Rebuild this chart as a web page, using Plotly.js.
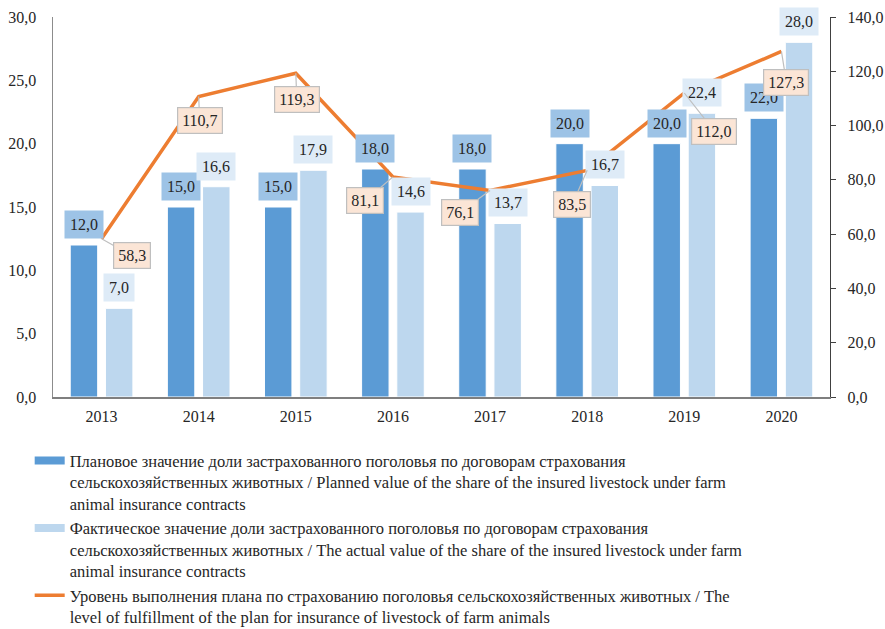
<!DOCTYPE html>
<html>
<head>
<meta charset="utf-8">
<script src="https://cdn.plot.ly/plotly-3.0.1.min.js"></script>
<style>html,body{margin:0;padding:0;background:#fff;}#chart{width:885px;height:629px;}</style>
</head>
<body>
<div id="chart"></div>
<script>
const years = ['2013','2014','2015','2016','2017','2018','2019','2020'];
const planned = [12.0, 15.0, 15.0, 18.0, 18.0, 20.0, 20.0, 22.0];
const actual = [7.0, 16.6, 17.9, 14.6, 13.7, 16.7, 22.4, 28.0];
const fulfillment = [58.3, 110.7, 119.3, 81.1, 76.1, 83.5, 112.0, 127.3];
const leftTicks = [0, 5, 10, 15, 20, 25, 30];
const rightTicks = [0, 20, 40, 60, 80, 100, 120, 140];
const legendNames = [
  'Плановое значение доли застрахованного поголовья по договорам страхования<br>сельскохозяйственных животных / Planned value of the share of the insured livestock under farm<br>animal insurance contracts',
  'Фактическое значение доли застрахованного поголовья по договорам страхования<br>сельскохозяйственных животных / The actual value of the share of the insured livestock under farm<br>animal insurance contracts',
  'Уровень выполнения плана по страхованию поголовья сельскохозяйственных животных / The<br>level of fulfillment of the plan for insurance of livestock of farm animals'
];
// callout offsets (px) for line labels
const calloutAx = [30, 1, 1, -28, -30, -15, 30, 5];
const calloutAy = [17, 24, 26, 24, 22, 34, 38, 31];

const FONT = 'Liberation Serif';
const TXT = '#262626';
const fmt = v => v.toFixed(1).replace('.', ',');
const xIdx = years.map((_, i) => i);

const traces = [
  {type:'bar', name: legendNames[0], x: years, y: planned, marker:{color:'#5B9BD5', line:{color:'#ffffff', width:1}}, hoverinfo:'none', showlegend:false},
  {type:'bar', name: legendNames[1], x: years, y: actual, marker:{color:'#BDD7EE', line:{color:'#ffffff', width:1}}, hoverinfo:'none', showlegend:false},
  {type:'scatter', mode:'lines', name: legendNames[2], x: years, y: fulfillment, yaxis:'y2', line:{color:'#ED7D31', width:3.5}, hoverinfo:'none', showlegend:false},
  // legend entries (wide swatches like the reference)
  {type:'scatter', mode:'lines', name: legendNames[0], x: [null], y: [null], line:{color:'#5B9BD5', width:8}, hoverinfo:'none'},
  {type:'scatter', mode:'lines', name: legendNames[1], x: [null], y: [null], line:{color:'#BDD7EE', width:8}, hoverinfo:'none'},
  {type:'scatter', mode:'lines', name: legendNames[2], x: [null], y: [null], yaxis:'y2', line:{color:'#ED7D31', width:3.5}, hoverinfo:'none'}
];

const annotations = [];
xIdx.forEach(i => {
  annotations.push({x: i, y: planned[i], xref:'x', yref:'y', xshift:-17.6, yshift:6, yanchor:'bottom', showarrow:false,
    text: fmt(planned[i]), bgcolor:'#9DC3E6', borderpad:5, font:{family:FONT, size:16, color:TXT}});
  annotations.push({x: i, y: actual[i], xref:'x', yref:'y', xshift:17.6, yshift:6, yanchor:'bottom', showarrow:false,
    text: fmt(actual[i]), bgcolor:'#DEEBF7', borderpad:5, font:{family:FONT, size:16, color:TXT}});
});
xIdx.forEach(i => {
  annotations.push({x: i, y: fulfillment[i], xref:'x', yref:'y2', showarrow:true, arrowhead:0, arrowwidth:1.2, arrowcolor:'#BFBFBF',
    ax: calloutAx[i], ay: calloutAy[i], text: fmt(fulfillment[i]), bgcolor:'#FBE5D6', bordercolor:'#BFBFBF', borderwidth:1.2, borderpad:4,
    font:{family:FONT, size:16, color:TXT}});
});

const layout = {
  width: 885, height: 629,
  margin: {l:53, r:55, t:17, b:232, autoexpand:false},
  paper_bgcolor:'#ffffff', plot_bgcolor:'#ffffff',
  font: {family: FONT, size: 16, color:TXT},
  barmode: 'group', bargap: 0.275, bargroupgap: 0.22,
  showlegend: true,
  xaxis: {type:'category', range:[-0.5, 7.5], showline:true, linecolor:'#7F7F7F', linewidth:1.5, ticks:'', showgrid:false, zeroline:false,
    ticklabelstandoff: 4, tickfont:{family:FONT, size:16, color:TXT}},
  yaxis: {range:[0,30], tickvals: leftTicks, ticktext: leftTicks.map(fmt), showline:true, linecolor:'#8C8C8C', linewidth:1.5, ticks:'', showgrid:false, zeroline:false,
    ticklabelstandoff: 12, tickfont:{family:FONT, size:16, color:TXT}},
  yaxis2: {range:[0,140], tickvals: rightTicks, ticktext: rightTicks.map(fmt), overlaying:'y', side:'right', showline:true, linecolor:'#404040', linewidth:1.2,
    ticks:'outside', ticklen:5, tickcolor:'#404040', showgrid:false, zeroline:false, ticklabelstandoff: 8,
    tickfont:{family:FONT, size:16, color:TXT}},
  legend: {x:-0.03, y:-0.122, xanchor:'left', yanchor:'top', orientation:'v', valign:'top',
    font:{family:FONT, size:16.5, color:TXT}, bgcolor:'rgba(0,0,0,0)', traceorder:'normal'},
  annotations: annotations
};

Plotly.newPlot('chart', traces, layout, {displayModeBar:false, staticPlot:true});
</script>
</body>
</html>
